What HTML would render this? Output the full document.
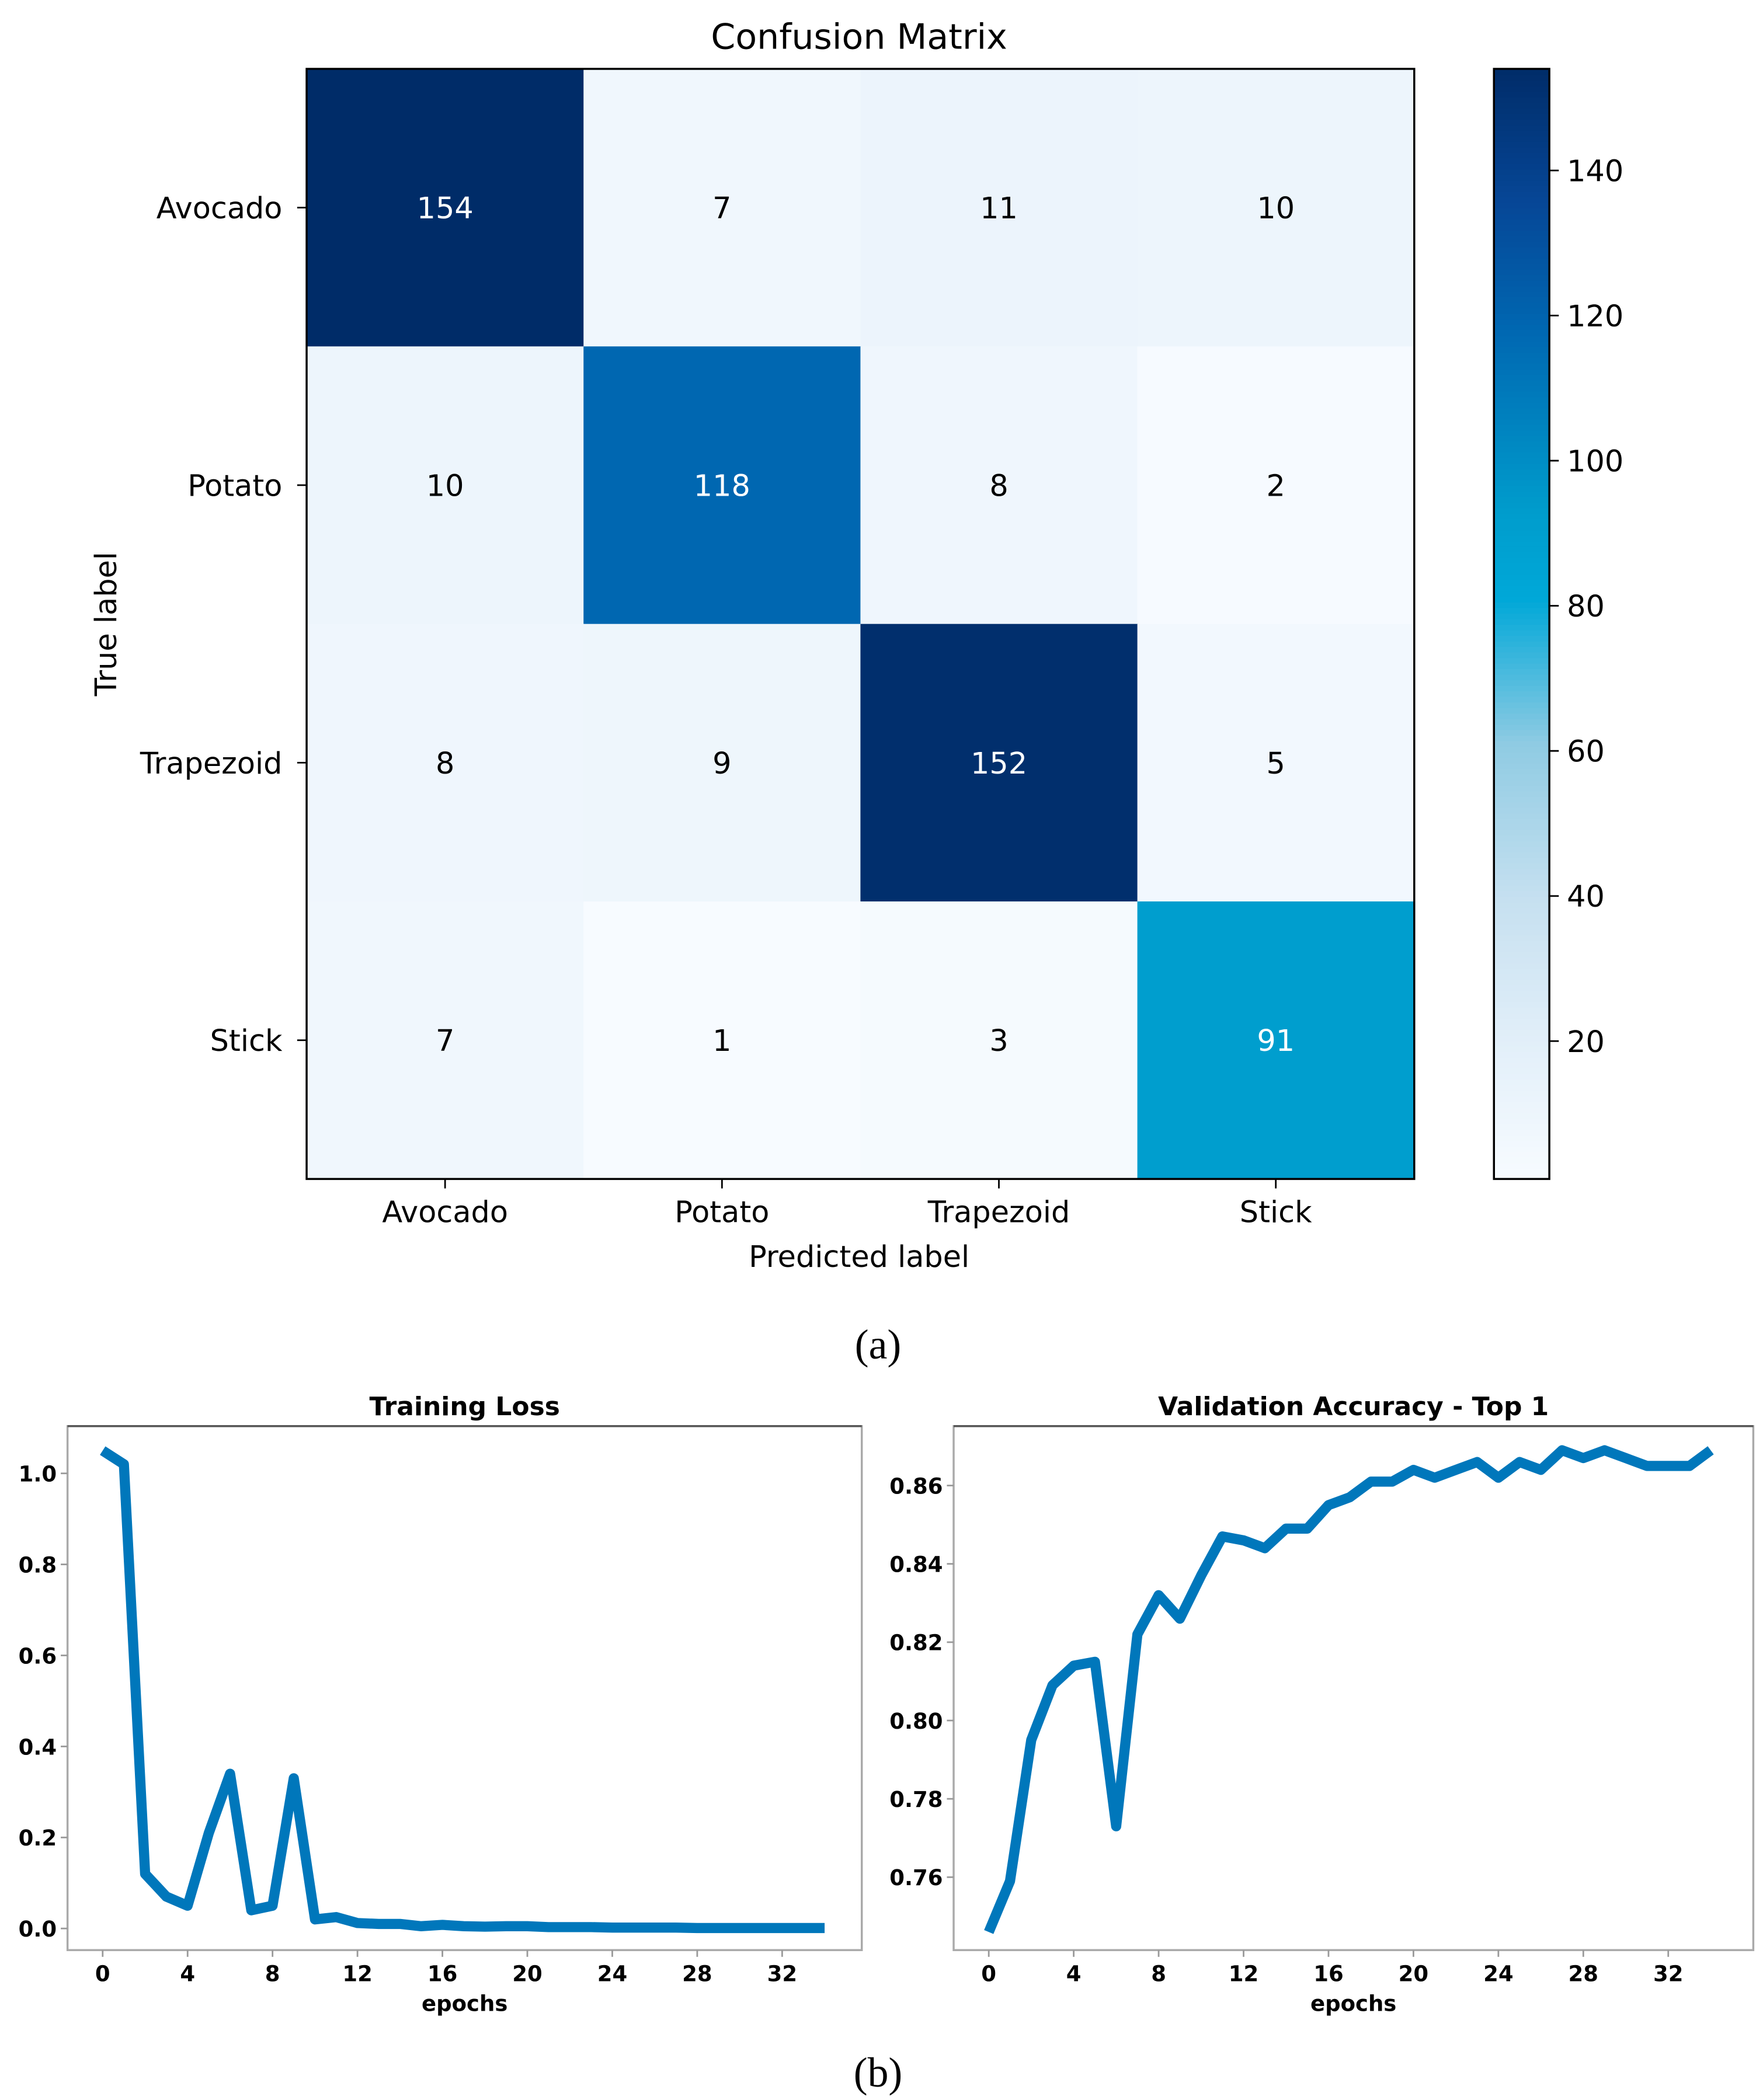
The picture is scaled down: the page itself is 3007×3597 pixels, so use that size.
<!DOCTYPE html>
<html><head><meta charset="utf-8"><style>
html,body{margin:0;padding:0;background:#fff;}
svg{display:block;}
text{font-family:"DejaVu Sans","Liberation Sans",sans-serif;}
</style></head><body>
<svg id="fig" width="3007" height="3597" viewBox="0 0 1300 1555" preserveAspectRatio="none" xmlns="http://www.w3.org/2000/svg">
<rect width="1300" height="1555" fill="#fff"/>
<g id="cm"></g>
<g id="loss"></g>
<g id="acc"></g>
<text x="650" y="1006" font-size="31" text-anchor="middle" style="font-family:'Liberation Serif',serif">(a)</text>
<text x="650" y="1545" font-size="31" text-anchor="middle" style="font-family:'Liberation Serif',serif">(b)</text>
</svg>
<script>
const classes = ["Avocado","Potato","Trapezoid","Stick"];
const matrix = [[154,7,11,10],[10,118,8,2],[8,9,152,5],[7,1,3,91]];
const cbTicks = [20,40,60,80,100,120,140];
const epochs = Array.from({length:35},(_,i)=>i);
const lossValues = [1.05,1.02,0.12,0.07,0.05,0.21,0.34,0.04,0.05,0.33,0.02,0.025,0.012,0.01,0.01,0.005,0.008,0.005,0.004,0.005,0.005,0.003,0.003,0.003,0.002,0.002,0.002,0.002,0.001,0.001,0.001,0.001,0.001,0.001,0.001];
const accValues = [0.746,0.759,0.795,0.809,0.814,0.815,0.773,0.822,0.832,0.826,0.837,0.847,0.846,0.844,0.849,0.849,0.855,0.857,0.861,0.861,0.864,0.862,0.864,0.866,0.862,0.866,0.864,0.869,0.867,0.869,0.867,0.865,0.865,0.865,0.869];
const xTicks = [0,4,8,12,16,20,24,28,32];
const lossTicks = [0.0,0.2,0.4,0.6,0.8,1.0];
const accTicks = [0.76,0.78,0.80,0.82,0.84,0.86];

const NS="http://www.w3.org/2000/svg";
function mk(parent,tag,attrs,txt){const e=document.createElementNS(NS,tag);for(const k in attrs)e.setAttribute(k,attrs[k]);if(txt!==undefined)e.textContent=txt;parent.appendChild(e);return e;}

const stops=[[0,[247,251,255]],[0.12,[226,239,249]],[0.25,[198,224,240]],[0.39,[143,203,227]],[0.52,[0,168,216]],[0.6,[0,156,204]],[0.76,[0,104,178]],[0.88,[6,70,150]],[1,[0,44,104]]];
function cmap(t){t=Math.max(0,Math.min(1,t));for(let i=1;i<stops.length;i++){if(t<=stops[i][0]){const a=stops[i-1],b=stops[i];const f=(t-a[0])/(b[0]-a[0]);const c=a[1].map((v,j)=>Math.round(v+(b[1][j]-v)*f));return `rgb(${c})`;}}return "rgb(0,44,104)";}
const vmin=1,vmax=154;

const cm=document.getElementById('cm');
const L=227,T=51,W=820,H=822,cw=W/4,ch=H/4;
const cell=(r,c)=>({x:L+c*cw,y:T+r*ch});
matrix.forEach((row,r)=>row.forEach((v,c)=>{
  const p=cell(r,c);
  const e=mk(cm,'rect',{x:p.x,y:p.y,width:cw+0.5,height:ch+0.5,fill:cmap((v-vmin)/(vmax-vmin))});
  
  
  const t=mk(cm,'text',{x:p.x+cw/2,y:p.y+ch/2+8,'font-size':22,'text-anchor':'middle',fill:v>77?'#fff':'#000'},String(v));
  
  
}));
mk(cm,'rect',{x:L,y:T,width:W,height:H,fill:'none',stroke:'#000','stroke-width':1.5});
classes.forEach((c,i)=>{
  const y=T+i*ch+ch/2, x=L+i*cw+cw/2;
  mk(cm,'line',{x1:L-7,x2:L,y1:y,y2:y,stroke:'#000','stroke-width':1.2});
  const a=mk(cm,'text',{x:L-18,y:y+8,'font-size':22,'text-anchor':'end'},c);
  
  
  mk(cm,'line',{x1:x,x2:x,y1:T+H,y2:T+H+7,stroke:'#000','stroke-width':1.2});
  const b=mk(cm,'text',{x:x,y:T+H+32,'font-size':22,'text-anchor':'middle'},c);
  
  
});
let tt=mk(cm,'text',{x:636,y:36,'font-size':26,'text-anchor':'middle'},'Confusion Matrix');

tt=mk(cm,'text',{x:636,y:938,'font-size':22,'text-anchor':'middle'},'Predicted label');

tt=mk(cm,'text',{x:0,y:0,'font-size':22,'text-anchor':'middle',transform:'translate(86,462) rotate(-90)'},'True label');

const cbL=1106,cbW=41;
const cbY=v=>T+H-(v-vmin)/(vmax-vmin)*H;
for(let i=0;i<200;i++){const v0=vmin+(vmax-vmin)*i/200;mk(cm,'rect',{x:cbL,y:cbY(v0+(vmax-vmin)/200),width:cbW,height:H/200+0.6,fill:cmap(i/200)});}
mk(cm,'rect',{x:cbL,y:T,width:cbW,height:H,fill:'none',stroke:'#000','stroke-width':1.5});
cbTicks.forEach(v=>{const y=cbY(v);mk(cm,'line',{x1:cbL+cbW,x2:cbL+cbW+7,y1:y,y2:y,stroke:'#000','stroke-width':1.2});
  const e=mk(cm,'text',{x:cbL+cbW+13,y:y+8,'font-size':22},String(v));
  });

function lineChart(g,box,title,vals,ydom,yticks,fmt){
  const sx=e=>box.x0px+(e-0)*15.72;
  const sy=v=>box.yb-(v-ydom[0])/(ydom[1]-ydom[0])*(box.yb-box.yt);
  mk(g,'rect',{x:box.l,y:box.t,width:box.r-box.l,height:box.b-box.t,fill:'none',stroke:'#aaa','stroke-width':1.5});
  mk(g,'line',{x1:box.l,x2:box.r,y1:box.t,y2:box.t,stroke:'#555','stroke-width':1.5});
  const p=mk(g,'polyline',{points:vals.map((v,i)=>sx(epochs[i])+','+sy(v)).join(' '),fill:'none',stroke:'#0077bb','stroke-width':7.5,'stroke-linejoin':'round'});
  
  xTicks.forEach(t=>{const x=sx(t);mk(g,'line',{x1:x,x2:x,y1:box.b,y2:box.b+5,stroke:'#999','stroke-width':1.2});
    const e=mk(g,'text',{x:x,y:box.b+23,'font-size':16,'font-weight':'bold','text-anchor':'middle'},String(t));
    });
  yticks.forEach(t=>{const y=sy(t);mk(g,'line',{x1:box.l-5,x2:box.l,y1:y,y2:y,stroke:'#999','stroke-width':1.2});
    const e=mk(g,'text',{x:box.l-8,y:y+6,'font-size':16,'font-weight':'bold','text-anchor':'end'},fmt(t));
    });
  let e=mk(g,'text',{x:(box.l+box.r)/2,y:box.t-8,'font-size':19,'font-weight':'bold','text-anchor':'middle'},title);
  
  e=mk(g,'text',{x:(box.l+box.r)/2,y:box.b+45,'font-size':16,'font-weight':'bold','text-anchor':'middle'},'epochs');
  
}
lineChart(document.getElementById('loss'),{l:50,r:638,t:1056,b:1444,x0px:76,yb:1428,yt:1091},'Training Loss',lossValues,[0,1],lossTicks,v=>v.toFixed(1));
lineChart(document.getElementById('acc'),{l:706,r:1298,t:1056,b:1444,x0px:732,yb:1390,yt:1100},'Validation Accuracy - Top 1',accValues,[0.76,0.86],accTicks,v=>v.toFixed(2));
</script>
</body></html>
